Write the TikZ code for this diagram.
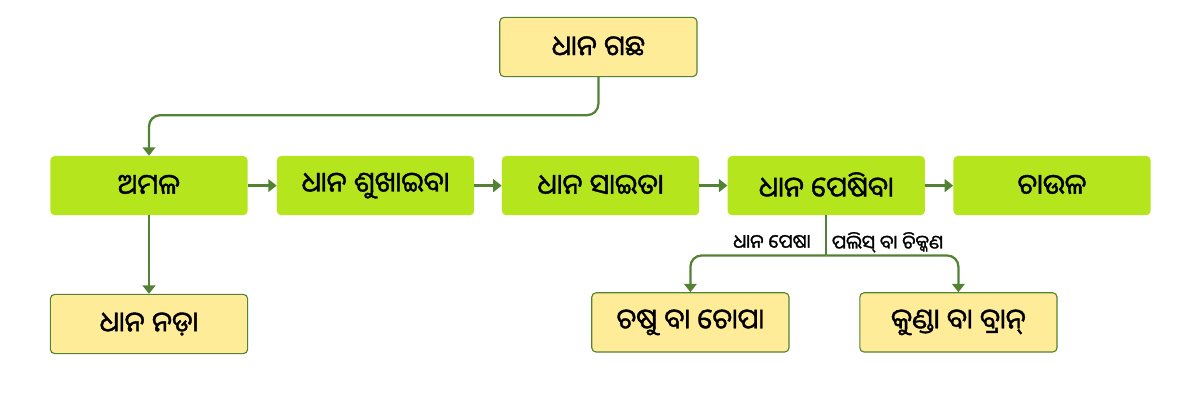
\documentclass[tikz,border=0pt]{standalone}
\usepackage{fontspec}
\newfontfamily\odiafont[Script=Oriya, FakeBold=1.3]{Noto Sans Oriya UI}
\usetikzlibrary{positioning,arrows.meta}

\definecolor{leaf}{HTML}{B5E61D}
\definecolor{straw}{HTML}{FFEC99}
\definecolor{stem}{HTML}{548235}

\tikzset{
  stepbox/.style={fill=leaf, rounded corners=3pt, minimum width=4.93cm,
    minimum height=1.48cm, inner sep=0pt, font=\odiafont\fontsize{20}{24}\selectfont},
  grainbox/.style={stepbox, fill=straw, draw=stem, line width=0.8pt},
  flow/.style={draw=stem, line width=1.6pt, -{Triangle[length=6pt,width=9pt]}},
  tag/.style={inner sep=1pt, font=\odiafont\fontsize{13.5}{16}\selectfont}
}

\begin{document}
\begin{tikzpicture}
    \useasboundingbox (0,0) rectangle (30,-10.05);

    % Gachha
    \node[grainbox] (plant) at (14.96,-1.175) {ଧାନ ଗଛ};

    % Main row
    \node[stepbox] (harvest) at (3.725,-4.64) {ଅମଳ};
    \node[stepbox, right=0.72cm of harvest] (dry) {ଧାନ ଶୁଖାଇବା};
    \node[stepbox, right=0.68cm of dry] (store) {ଧାନ ସାଇତା};
    \node[stepbox, right=0.7cm of store] (mill) {ଧାନ ପେଷିବା};
    \node[stepbox, right=0.7cm of mill] (rice) {ଚାଉଳ};

    % Byproducts
    \node[grainbox] (straw) at (3.725,-8.1) {ଧାନ ନଡ଼ା};
    \node[grainbox] (husk) at (17.26,-8.06) {ଚଷୁ ବା ଚୋପା};
    \node[grainbox] (bran) at (23.96,-8.06) {କୁଣ୍ଡା ବା ବ୍ରାନ୍};

    % Connectors
    \draw[flow, rounded corners=8pt] (plant.south) -- ++(0,-0.95) -| (harvest.north);
    \draw[flow] (harvest) -- (dry);
    \draw[flow] (dry) -- (store);
    \draw[flow] (store) -- (mill);
    \draw[flow] (mill) -- (rice);
    \draw[flow] (harvest.south) -- (straw.north);

    % Pesha
    \draw[draw=stem, line width=1.6pt] (mill.south) -- ++(0,-1.0) coordinate (split);
    \draw[flow, rounded corners=8pt] (split) -| (husk.north);
    \draw[flow, rounded corners=8pt] (split) -| (bran.north);
    \node[tag, anchor=east] (milltag) at ([xshift=-0.35cm, yshift=0.33cm]split) {ଧାନ ପେଷା};
    \node[tag, anchor=west] (polishtag) at ([xshift=0.1cm, yshift=0.33cm]split) {ପଲିସ୍ ବା ଚିକ୍କଣ};
\end{tikzpicture}
\end{document}
